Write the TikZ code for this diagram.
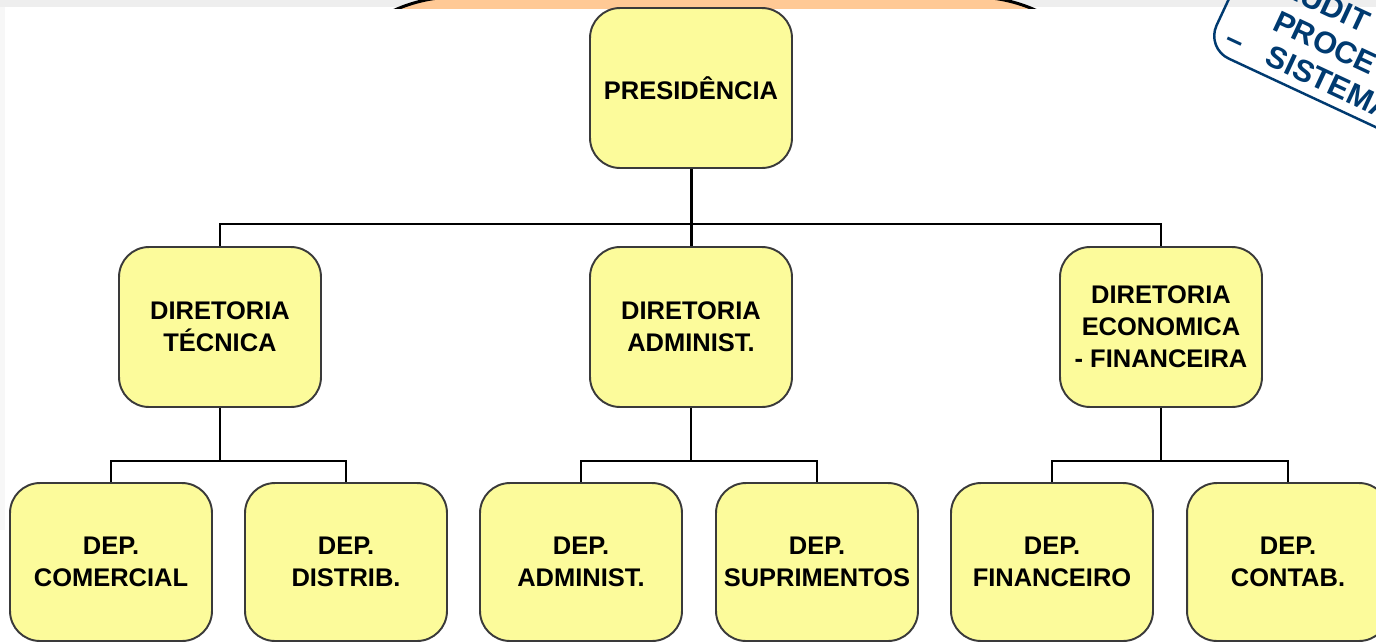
\documentclass[tikz,border=0pt]{standalone}
\usepackage{fontspec}
\setmainfont{Liberation Sans}
\definecolor{boxfill}{HTML}{FCFB9B}
\definecolor{boxline}{HTML}{3A3A3A}
\definecolor{peach}{HTML}{FFC995}
\definecolor{stampblue}{HTML}{003A70}
\definecolor{paper}{HTML}{EEEEEE}
\begin{document}
\begin{tikzpicture}[x=0.02cm,y=-0.02cm,
  unit/.style={draw=boxline,line width=1.1pt,fill=boxfill,rounded corners=0.6cm,minimum width=4.04cm,minimum height=3.2cm,align=center,inner sep=0pt,font=\bfseries\fontsize{14.5}{18.1}\selectfont},
  dept/.style={unit,minimum height=3.16cm},
  link/.style={line width=0.9pt},
  stamptext/.style={anchor=base west,inner sep=0pt,align=left,text=stampblue,font=\bfseries\fontsize{17.5}{19.8}\selectfont}]
\useasboundingbox (0,0) rectangle (1376,643);
\clip (0,0) rectangle (1376,643);
\fill[paper] (0,0) rectangle (1376,7);
\fill[paper!50!white] (0,7) rectangle (5,530);
\begin{scope}
\clip (0,-10) rectangle (1376,8);
\draw[fill=peach,line width=1.7pt,rounded corners=3cm] (306,-3) rectangle (1124,400);
\end{scope}
\begin{scope}[shift={(1206,48)},rotate=-25,transform shape]
\draw[stampblue,line width=1.4pt,rounded corners=0.5cm] (0,0) rectangle (420,-220);
\node[stamptext] (stamp) at (14,-10) {\hspace{16pt}AUDIT\\\hspace{21pt}PROCE\\–\hspace{0.9em}SISTEMA};
\end{scope}
\node[unit] (pres) at (691,88) {PRESIDÊNCIA};
\node[unit] (dtec) at (220,327) {DIRETORIA\\TÉCNICA};
\node[unit] (dadm) at (691,327) {DIRETORIA\\ADMINIST.};
\node[unit] (deco) at (1161,327) {DIRETORIA\\ECONOMICA\\- FINANCEIRA};
\foreach \x/\n/\t in {111/com/COMERCIAL,346/dis/DISTRIB.,581/adm/ADMINIST.,817/sup/SUPRIMENTOS,1052/fin/FINANCEIRO,1288/con/CONTAB.}
  \node[dept] (dep\n) at (\x,562) {DEP.\\\t};
\coordinate (bus) at (691,224);
\draw[link,line width=1.7pt] (pres) -- (dadm);
\draw[link] (dtec.north) |- (bus) -| (deco.north);
\foreach \p/\a/\b in {dtec/com/dis,dadm/adm/sup,deco/fin/con} {
  \path (\p.south) ++(0,53) coordinate (\p-bus);
  \draw[link] (\p) -- (\p-bus);
  \draw[link] (dep\a.north) |- (\p-bus) -| (dep\b.north);
}
\end{tikzpicture}
\end{document}
